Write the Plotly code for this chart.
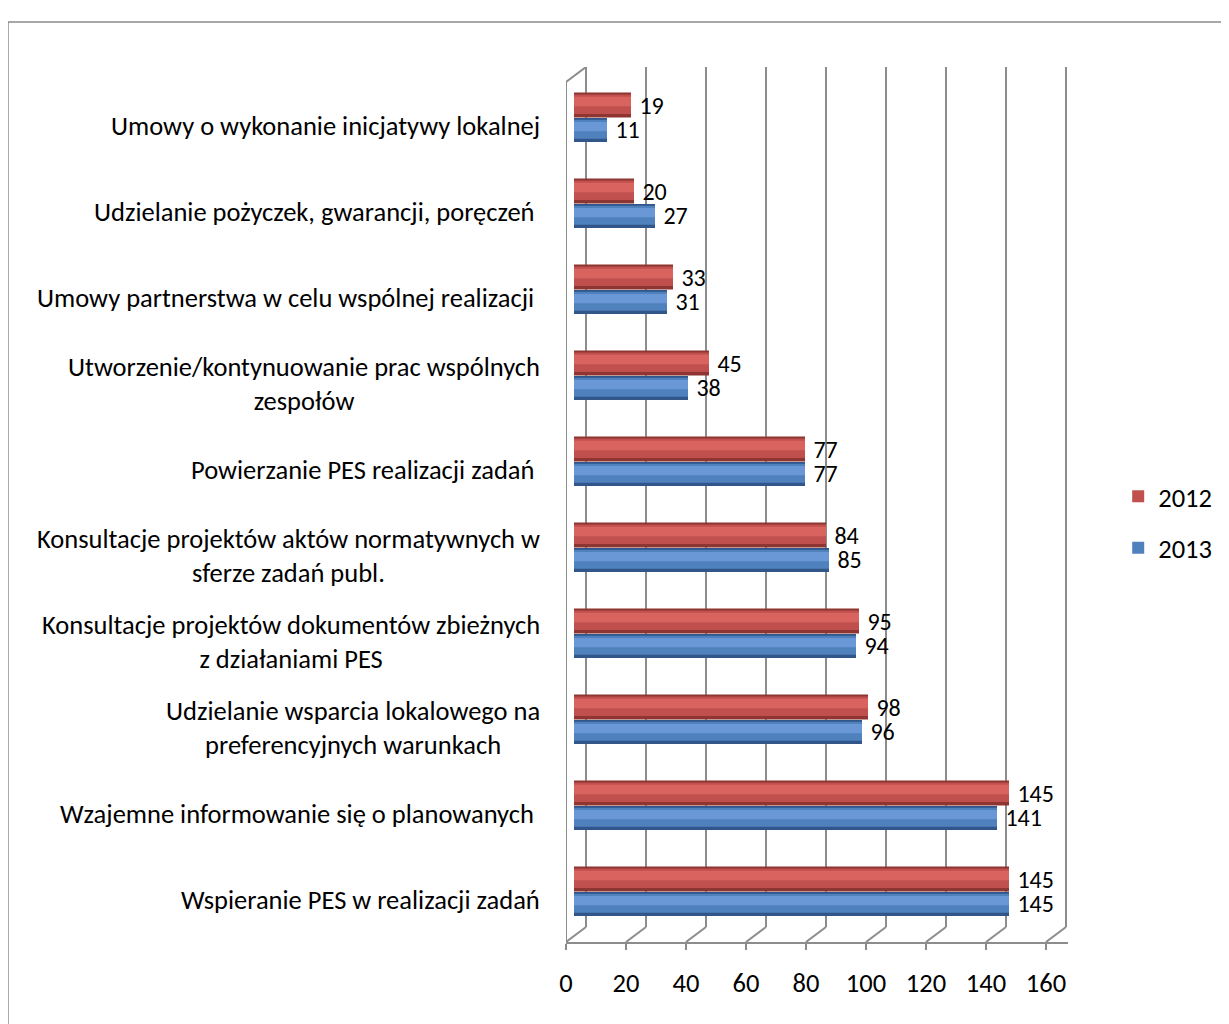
import plotly.graph_objects as go

# categories top -> bottom, as in the chart
categories = [
    "Umowy o wykonanie inicjatywy lokalnej",
    "Udzielanie pożyczek, gwarancji, poręczeń ",
    "Umowy partnerstwa w celu wspólnej realizacji ",
    "Utworzenie/kontynuowanie prac wspólnych<br>zespołów",
    "Powierzanie PES realizacji zadań ",
    "Konsultacje projektów aktów normatywnych w<br>sferze zadań publ.",
    "Konsultacje projektów dokumentów zbieżnych<br>z działaniami PES",
    "Udzielanie wsparcia lokalowego na<br>preferencyjnych warunkach",
    "Wzajemne informowanie się o planowanych ",
    "Wspieranie PES w realizacji zadań",
]
values_2012 = [19, 20, 33, 45, 77, 84, 95, 98, 145, 145]
values_2013 = [11, 27, 31, 38, 77, 85, 94, 96, 141, 145]
x_ticks = [0, 20, 40, 60, 80, 100, 120, 140, 160]

FONT = "Carlito, Calibri, Lato, sans-serif"
FS = 26.5
n = len(categories)
ypos = [n - 1 - i for i in range(n)]

# 3d-ish geometry (axis units): depth shift of back wall, bar start inside the box
depth_x = 20 / 3
depth_y = 15 / 86
bar_base = 8 / 3

series = [
    # name, values, offset, width, (dark, main, light)
    ("2012", values_2012, 0.087, 0.29, ("#8E3431", "#C0504D", "#D9635F")),
    ("2013", values_2013, -0.198, 0.28, ("#30568A", "#4F81BD", "#6A98D6")),
]

fig = go.Figure()
for name, vals, off, w, (dark, main, light) in series:
    # dark body (cylinder edges) + value labels
    fig.add_trace(go.Bar(
        y=ypos, x=vals, base=bar_base, orientation="h",
        offset=off, width=w, marker=dict(color=dark, line=dict(width=0)),
        text=["\u00a0" + str(v) for v in vals], textposition="outside",
        constraintext="none",
        textfont=dict(family=FONT, size=24, color="black"), cliponaxis=False,
        showlegend=False, hoverinfo="skip", legendgroup=name,
    ))
    # main colour (legend entry)
    fig.add_trace(go.Bar(
        y=ypos, x=vals, base=bar_base, orientation="h", name=name,
        offset=off + w * 0.14, width=w * 0.78, marker=dict(color=main, line=dict(width=0)),
        hoverinfo="skip", legendgroup=name,
    ))
    # highlight
    fig.add_trace(go.Bar(
        y=ypos, x=vals, base=bar_base, orientation="h",
        offset=off + w * 0.45, width=w * 0.38, marker=dict(color=light, line=dict(width=0)),
        showlegend=False, hoverinfo="skip", legendgroup=name,
    ))

shapes = []
grid = dict(color="#8C8C8C", width=2)
y_bot = -0.5
y_top = n - 0.5
# back wall gridlines + floor diagonals
for v in x_ticks:
    shapes.append(dict(type="line", xref="x", yref="y", x0=v + depth_x, x1=v + depth_x,
                       y0=y_bot + depth_y, y1=y_top + depth_y, line=grid, layer="below"))
    shapes.append(dict(type="line", xref="x", yref="y", x0=v, x1=v + depth_x,
                       y0=y_bot, y1=y_bot + depth_y, line=grid, layer="below"))
# left wall
shapes.append(dict(type="line", xref="x", yref="y", x0=0, x1=0, y0=y_bot, y1=y_top,
                   line=grid, layer="below"))
shapes.append(dict(type="line", xref="x", yref="y", x0=0, x1=depth_x, y0=y_top,
                   y1=y_top + depth_y, line=grid, layer="below"))
for k in range(n + 1):
    shapes.append(dict(type="line", xref="x", yref="y", x0=-10 / 3, x1=0,
                       y0=k - 0.5, y1=k - 0.5, line=grid, layer="below"))
# outer chart border
shapes.append(dict(type="rect", xref="paper", yref="paper", x0=-1.1116, x1=2,
                   y0=-1, y1=1.0514, line=dict(color="#8C8C8C", width=1.5),
                   layer="below"))

annotations = []
for i, c in enumerate(categories):
    annotations.append(dict(
        x=0, y=ypos[i], xref="x", yref="y", text=c, showarrow=False,
        xanchor="right", yanchor="middle", align="center", xshift=-24, yshift=-1,
        font=dict(family=FONT, size=FS, color="black"),
    ))

fig.update_layout(
    width=1221, height=1016,
    margin=dict(l=558, r=161, t=59, b=82),
    paper_bgcolor="white", plot_bgcolor="white",
    barmode="overlay",
    font=dict(family=FONT, size=FS, color="black"),
    xaxis=dict(range=[0, 160 + 22 / 3], tickvals=x_ticks, showgrid=False,
               zeroline=False, showline=True, linecolor="#8C8C8C", linewidth=2,
               ticks="outside", ticklen=6, tickcolor="#8C8C8C", tickwidth=2,
               ticklabelstandoff=10, tickfont=dict(family=FONT, size=FS)),
    yaxis=dict(range=[y_bot, y_top + depth_y], showgrid=False, zeroline=False,
               showticklabels=False, showline=False),
    legend=dict(x=1.1, y=0.48, xanchor="left", yanchor="middle",
                font=dict(family=FONT, size=FS), tracegroupgap=14,
                traceorder="grouped", itemwidth=30),
    shapes=shapes,
    annotations=annotations,
)

fig.write_html("out.html")
